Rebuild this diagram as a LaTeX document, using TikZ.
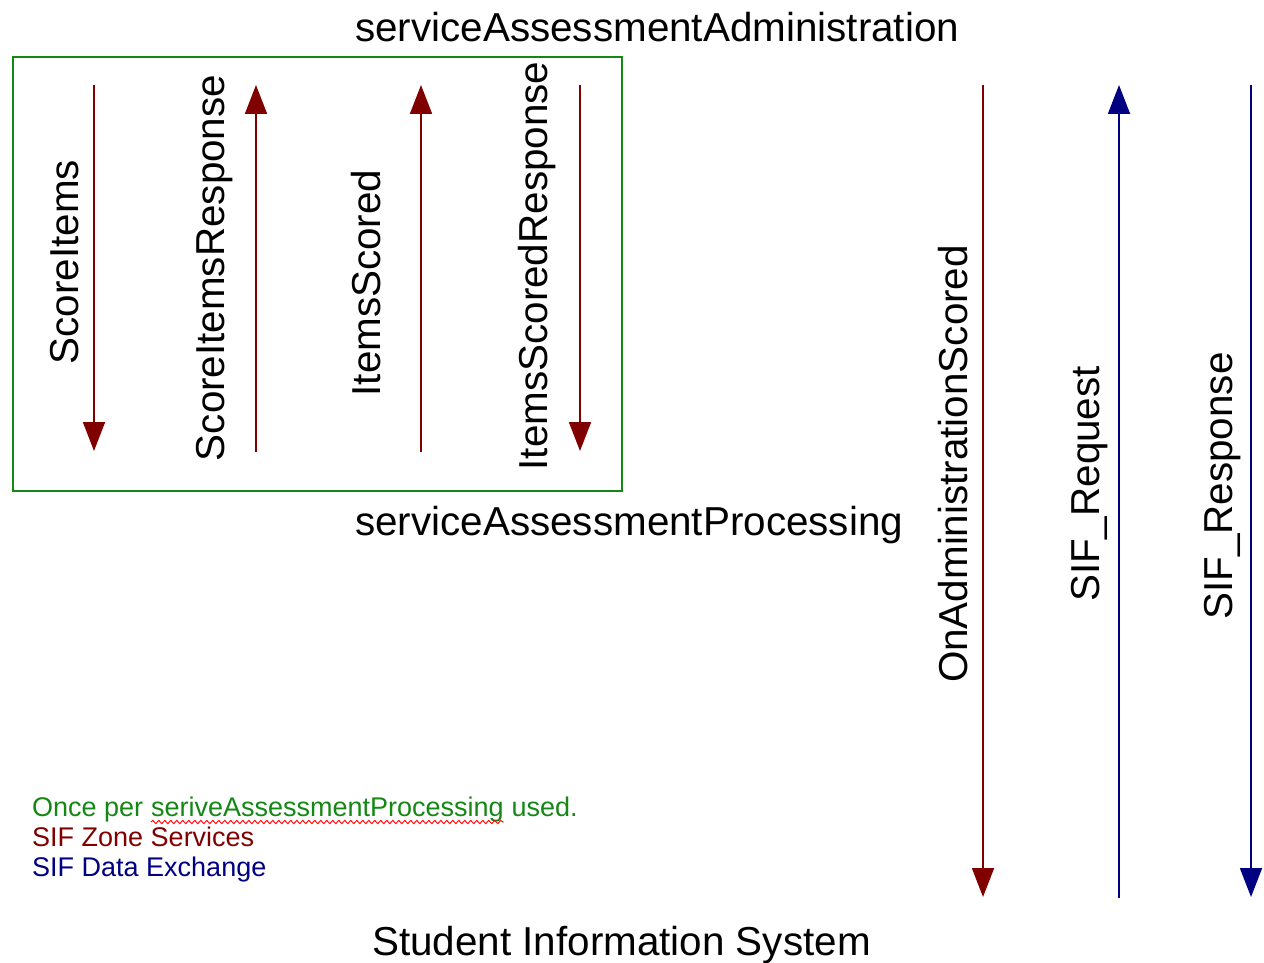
\documentclass[tikz,border=0pt]{standalone}
\usepackage{fontspec}
\setmainfont{Liberation Sans}
\usetikzlibrary{arrows.meta,decorations.pathmorphing}
\definecolor{zred}{RGB}{128,0,0}
\definecolor{zblue}{RGB}{0,0,128}
\definecolor{zgreen}{RGB}{20,135,20}
\tikzset{
  big/.style={font=\fontsize{40.4}{48}\selectfont, inner sep=0pt},
  vlab/.style={big, rotate=90, anchor=base},
  leg/.style={font=\fontsize{27}{32}\selectfont, inner sep=0pt, anchor=base west},
  msg/.style={line width=1.8pt, -{Triangle[width=22pt,length=29pt]}},
  redmsg/.style={msg, draw=zred},
  bluemsg/.style={msg, draw=zblue},
}
\begin{document}
\begin{tikzpicture}[x=1pt,y=-1pt]
\useasboundingbox (0,0) rectangle (1264,963);
% titles
\node[big, anchor=base west] (admin) at (355,42) {serviceAssessmentAdministration};
\node[big, anchor=base west] (proc) at (355,535) {serviceAssessmentProcessing};
\node[big, anchor=base west] (sis) at (372,955) {Student Information System};
% green box
\draw[zgreen, line width=1.5pt] (13,57) rectangle (622,491);
% coordinates
\coordinate (a1t) at (94,85);   \coordinate (a1b) at (94,451);
\coordinate (a2t) at (256,85);  \coordinate (a2b) at (256,452);
\coordinate (a3t) at (421,85);  \coordinate (a3b) at (421,452);
\coordinate (a4t) at (580,85);  \coordinate (a4b) at (580,451);
\coordinate (a5t) at (983,85);  \coordinate (a5b) at (983,897);
\coordinate (a6t) at (1119,85); \coordinate (a6b) at (1119,898);
\coordinate (a7t) at (1251,85); \coordinate (a7b) at (1251,897);
% arrows
\draw[redmsg] (a1t) -- (a1b);
\draw[redmsg] (a2b) -- (a2t);
\draw[redmsg] (a3b) -- (a3t);
\draw[redmsg] (a4t) -- (a4b);
\draw[redmsg] (a5t) -- (a5b);
\draw[bluemsg] (a6b) -- (a6t);
\draw[bluemsg] (a7t) -- (a7b);
% labels
\node[vlab] (l1) at (78,262) {ScoreItems};
\node[vlab] (l2) at (224,268) {ScoreItemsResponse};
\node[vlab] (l3) at (380,283) {ItemsScored};
\node[vlab] (l4) at (547,266) {ItemsScoredResponse};
\node[vlab] (l5) at (967,464) {OnAdministrationScored};
\node[vlab] (l6) at (1099,484) {SIF\_Request};
\node[vlab] (l7) at (1232,486) {SIF\_Response};
% legend
\node[leg, text=zgreen] (g1) at (32,816) {Once per};
\node[leg, text=zgreen] (g2) at ([xshift=7.5pt]g1.base east) {seriveAssessmentProcessing};
\node[leg, text=zgreen] (g3) at ([xshift=7.5pt]g2.base east) {used.};
\draw[red, line width=0.9pt, decorate, decoration={snake, amplitude=1.6pt, segment length=6pt}]
  ([yshift=-6pt]g2.base west) -- ([yshift=-6pt]g2.base east);
\node[leg, text=zred] (z) at (32,846) {SIF Zone Services};
\node[leg, text=zblue] (d) at (32,876) {SIF Data Exchange};
\end{tikzpicture}
\end{document}
